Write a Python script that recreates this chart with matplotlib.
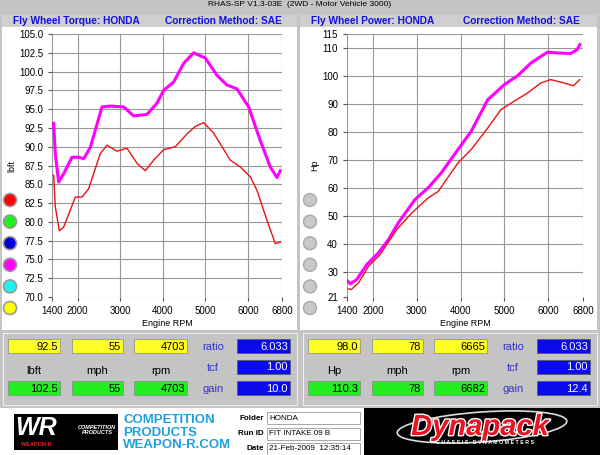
import matplotlib
matplotlib.use("Agg")
import matplotlib.pyplot as plt
from matplotlib.patches import Rectangle, Circle, Ellipse
import matplotlib.patheffects as pe

plt.rcParams['font.family'] = ['Liberation Sans', 'DejaVu Sans']

# ---- data ----
tq_rpm_mag = [1439,1478,1556,1674,1870,2026,2143,2300,2574,2770,3082,3317,3630,3865,4021,4256,4491,4726,5000,5274,5509,5743,6017,6291,6525,6682,6760]
tq_mag = [93.1,89.0,85.3,86.4,88.6,88.6,88.4,89.9,95.3,95.4,95.3,94.1,94.3,95.8,97.5,98.6,101.1,102.5,101.8,99.5,98.2,97.7,95.3,90.8,87.3,85.9,86.8]
tq_rpm_red = [1439,1478,1572,1674,1948,2104,2260,2534,2691,2926,3160,3395,3591,3786,4021,4295,4569,4765,4961,5196,5587,5822,6056,6212,6447,6643,6760]
tq_red = [86.2,82.0,78.8,79.3,83.3,83.3,84.4,89.1,90.2,89.4,89.8,87.8,86.8,88.2,89.6,90.0,91.7,92.7,93.2,91.8,88.2,87.3,86.0,84.2,80.2,77.1,77.3]
hp_rpm_mag = [1415,1476,1627,1855,2120,2347,2574,2953,3256,3559,3938,4241,4620,5000,5303,5606,5985,6250,6515,6667,6727]
hp_mag = [26.7,25.7,27.3,32.6,36.8,41.5,47.5,55.8,60.0,65.4,73.7,80.2,91.5,96.9,100.1,104.6,108.5,108.2,108.0,109.4,111.2]
hp_rpm_red = [1438,1500,1667,1894,2159,2538,2879,3256,3484,3938,4241,4620,4924,5227,5530,5833,6061,6364,6576,6727]
hp_red = [23.9,23.7,26.1,32.0,36.2,45.1,51.0,56.4,58.7,68.9,73.7,81.4,88.0,91.0,93.9,97.5,98.7,97.5,96.5,98.7]
x_ticks = [1400,2000,3000,4000,5000,6000,6800]
tq_ticks = [70.0,72.5,75.0,77.5,80.0,82.5,85.0,87.5,90.0,92.5,95.0,97.5,100.0,102.5,105.0]
hp_ticks = [21,30,40,50,60,70,80,90,100,110,115]
left_top = ["92.5","55","4703"]; left_bot = ["102.5","55","4703"]; left_blue = ["6.033","1.00","10.0"]
right_top = ["98.0","78","6665"]; right_bot = ["110.3","78","6682"]; right_blue = ["6.033","1.00","12.4"]
left_units = ["lbft","mph","rpm"]; right_units = ["Hp","mph","rpm"]

W, H = 600, 455
fig = plt.figure(figsize=(6, 4.55), dpi=100)
bg = fig.add_axes([0, 0, 1, 1])
bg.set_xlim(0, W); bg.set_ylim(H, 0); bg.axis("off")
GREY = "#c4c4c4"
bg.add_patch(Rectangle((0, 0), W, H, color=GREY))
bg.text(300, 5, "RHAS-SP V1.3-03E  (2WD - Motor Vehicle 3000)", ha="center", va="center", fontsize=6)

def rect(x0, y0, x1, y1, fc, ec="none", lw=0.8):
    bg.add_patch(Rectangle((x0, y0), x1 - x0, y1 - y0, facecolor=fc, edgecolor=ec, lw=lw))

for x0, x1, title in [(2, 297, "Fly Wheel Torque: HONDA"), (300, 597, "Fly Wheel Power: HONDA")]:
    rect(x0, 27, x1, 330, "white")
    rect(x0, 15, x1, 27, "#cfcfcf")
    bg.text(x0 + 11, 21.5, title, color="#1010e0", fontsize=7.3, fontweight="bold", va="center")
    bg.text(x0 + 163, 21.5, "Correction Method: SAE", color="#1010e0", fontsize=7.3, fontweight="bold", va="center")

for i, c in enumerate(["#ff0000", "#22ee22", "#0000dd", "#ff00ff", "#22eeee", "#ffff00"]):
    y = 200 + i * 21.6
    bg.add_patch(Circle((10, y), 6.5, facecolor=c, edgecolor="#999999", lw=1.2))
    bg.add_patch(Circle((310, y), 6.5, facecolor="#c8c8c8", edgecolor="#aaaaaa", lw=1.0))

def mkax(x0, x1, ylim, yticks, ylabel, fmt):
    ax = fig.add_axes([x0 / W, 1 - 297 / H, (x1 - x0) / W, (297 - 34) / H])
    ax.set_facecolor("none")
    ax.set_xlim(1400, 6800); ax.set_ylim(*ylim)
    ax.set_xticks(x_ticks); ax.set_yticks(yticks)
    ax.set_yticklabels([fmt(v) for v in yticks])
    ax.grid(True, color="#999999", lw=0.8)
    for s in ax.spines.values(): s.set_visible(False)
    ax.tick_params(labelsize=7, length=3, color="#555555")
    ax.set_xlabel("Engine RPM", fontsize=6.5, labelpad=2)
    ax.set_ylabel(ylabel, fontsize=6.5, labelpad=2)
    return ax

a1 = mkax(52, 282, (70, 105), tq_ticks, "lbft", lambda v: f"{v:.1f}")
a1.plot(tq_rpm_mag, tq_mag, color="#ff00ff", lw=2.2)
a1.plot(tq_rpm_red, tq_red, color="#ee1111", lw=1.0)
a2 = mkax(347, 583, (21, 115), hp_ticks, "Hp", lambda v: f"{v:d}")
a2.plot(hp_rpm_mag, hp_mag, color="#ff00ff", lw=2.2)
a2.plot(hp_rpm_red, hp_red, color="#ee1111", lw=1.0)

def panel(dx, top, bot, blue, units):
    rect(dx + 3, 333, dx + 297, 405, GREY, ec="#eeeeee")
    xs = [(8, 60), (72, 123), (134, 187)]
    for (a, b), t, u, v in zip(xs, top, bot, units):
        rect(dx + a, 339, dx + b, 353, "#ffff22", ec="#888888", lw=0.5)
        bg.text(dx + b - 2, 346.5, t, ha="right", va="center", fontsize=8)
        rect(dx + a, 381, dx + b, 395, "#22ee22", ec="#888888", lw=0.5)
        bg.text(dx + b - 2, 388.5, u, ha="right", va="center", fontsize=8)
        bg.text(dx + (a + b) / 2, 371, v, ha="center", va="center", fontsize=8)
    for y0, lab, val in zip([339, 360, 381], ["ratio", "tcf", "gain"], blue):
        rect(dx + 237, y0, dx + 290, y0 + 14, "#0a0aee", ec="#555555", lw=0.5)
        bg.text(dx + 288, y0 + 7.5, val, ha="right", va="center", fontsize=8, color="white")
        bg.text(dx + 213, y0 + 8, lab, ha="center", va="center", fontsize=8, color="#3333cc")

panel(0, left_top, left_bot, left_blue, left_units)
panel(300, right_top, right_bot, right_blue, right_units)

# footer
rect(0, 408, 364, 455, "white")
rect(364, 408, 600, 455, "black")
rect(14, 414, 118, 450, "black")
bg.text(36, 428, "WR", color="white", fontsize=18, fontstyle="italic", fontweight="bold", va="center", ha="center")
bg.text(97, 430, "COMPETITION\nPRODUCTS", color="white", fontsize=4, fontweight="bold", fontstyle="italic", ha="center", va="center")
bg.text(36, 444, "WEAPON-R", color="#ee2222", fontsize=4, fontweight="bold", ha="center", va="center")
for i, t in enumerate(["COMPETITION", "PRODUCTS", "WEAPON-R.COM"]):
    bg.text(123, 420 + i * 12.5, t, color="#1ea0e0", fontsize=9.5, fontweight="bold", va="center")
for i, (lab, val) in enumerate([("Folder", "HONDA"), ("Run ID", "FIT INTAKE 09 B"), ("Date", "21-Feb-2009  12:35:14")]):
    y = 418 + i * 15.5
    rect(267, y - 6, 360, y + 6, "white", ec="#999999", lw=0.6)
    bg.text(264, y, lab, ha="right", va="center", fontsize=5.8, fontweight="bold")
    bg.text(269, y, val, ha="left", va="center", fontsize=5.8)
bg.add_patch(Ellipse((482, 427), 170, 30, facecolor="none", edgecolor="#dddddd", lw=1.2, angle=-4))
bg.text(480, 427, "Dynapack", color="#ee1122", fontsize=21, fontweight="bold", fontstyle="italic",
        ha="center", va="center", path_effects=[pe.withStroke(linewidth=2, foreground="white")])
bg.text(485, 442, "C H A S S I S   D Y N A M O M E T E R S", color="white", fontsize=3.8, fontweight="bold", ha="center", va="center")

fig.savefig("out.png", dpi=100)
